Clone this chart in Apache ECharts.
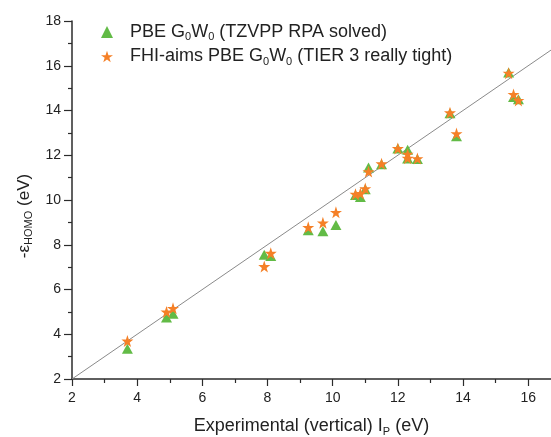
<!DOCTYPE html>
<html>
<head>
<meta charset="utf-8">
<script src="https://cdn.jsdelivr.net/npm/echarts@6/dist/echarts.min.js"></script>
<style>
  html, body { margin: 0; padding: 0; background: #fff; }
  #chart { width: 551px; height: 437px; }
</style>
</head>
<body>
<div id="chart"></div>
<script>
// experimental vertical IP (eV)
const expIP = [3.7, 4.9, 5.1, 7.9, 8.1, 9.25, 9.7, 10.1, 10.7, 10.85, 11.0, 11.1, 11.5, 12.0, 12.3, 12.3, 12.6, 13.6, 13.8, 15.4, 15.55, 15.7];
// -eps_HOMO, PBE G0W0 (TZVPP RPA solved)
const tzvpp = [3.35, 4.75, 4.92, 7.55, 7.5, 8.65, 8.6, 8.88, 10.22, 10.13, 10.48, 11.45, 11.6, 12.3, 12.25, 11.85, 11.83, 13.88, 12.85, 15.7, 14.6, 14.5];
// -eps_HOMO, FHI-aims PBE G0W0 (TIER 3 really tight)
const fhiaims = [3.7, 5.0, 5.16, 7.03, 7.62, 8.78, 8.98, 9.45, 10.26, 10.29, 10.51, 11.27, 11.62, 12.3, 12.05, 11.87, 11.85, 13.9, 12.97, 15.67, 14.72, 14.45];

const xTicks = [2, 4, 6, 8, 10, 12, 14, 16];
const xMinorTicks = [3, 5, 7, 9, 11, 13, 15];
const diagonal = [2, 16.7];

const nameTzvpp = 'PBE G0W0 (TZVPP RPA solved)';
const nameAims = 'FHI-aims PBE G0W0 (TIER 3 really tight)';
const legendLabels = {};
legendLabels[nameTzvpp] = 'PBE G{sub|0}W{sub|0} (TZVPP RPA solved)';
legendLabels[nameAims] = 'FHI-aims PBE G{sub|0}W{sub|0} (TIER 3 really tight)';

const green = '#62bb46';
const orange = '#f58027';
const axisColor = '#2b2b2b';
const font = 'Liberation Sans, Arial, sans-serif';
const star = 'path://M50,0 L61.8,35.1 L98.9,35.1 L69.1,56.9 L80.2,91.9 L50,70.3 L19.8,91.9 L30.9,56.9 L1.1,35.1 L38.2,35.1 Z';

const subStyle = { fontSize: 11, fontFamily: font, color: '#222', verticalAlign: 'bottom', padding: [10, 0, 0, 0] };

const chart = echarts.init(document.getElementById('chart'), null, { renderer: 'canvas' });

const option = {
  animation: false,
  backgroundColor: '#fff',
  grid: { left: 72, right: 0, top: 21, bottom: 58, outerBoundsMode: 'none' },
  legend: {
    orient: 'vertical',
    left: 96,
    top: 18,
    itemWidth: 12,
    itemHeight: 12,
    itemGap: 5,
    data: [
      { name: nameTzvpp, icon: 'triangle' },
      { name: nameAims, icon: star }
    ],
    formatter: n => legendLabels[n],
    textStyle: {
      fontFamily: font, fontSize: 18, color: '#222',
      padding: [0, 0, 0, 12],
      rich: { sub: subStyle }
    }
  },
  xAxis: [
    {
      type: 'value', min: 2, max: 16.7, interval: 2,
      splitLine: { show: false },
      axisLine: { lineStyle: { color: axisColor, width: 1.5 } },
      axisTick: { customValues: xTicks, length: 7, lineStyle: { color: axisColor, width: 1.2 } },
      axisLabel: { customValues: xTicks, margin: 12, fontFamily: font, fontSize: 14, color: '#222' },
      name: 'Experimental (vertical) I{sub|P} (eV)',
      nameLocation: 'middle',
      nameGap: 37,
      nameTextStyle: {
        fontFamily: font, fontSize: 18, color: '#222',
        rich: { sub: subStyle }
      }
    },
    {
      type: 'value', min: 2, max: 16.7, position: 'bottom',
      splitLine: { show: false },
      axisLine: { show: false },
      axisTick: { customValues: xMinorTicks, length: 4, lineStyle: { color: axisColor, width: 1.2 } },
      axisLabel: { show: false }
    }
  ],
  yAxis: {
    type: 'value', min: 2, max: 18, interval: 2,
    splitLine: { show: false },
    axisLine: { show: true, lineStyle: { color: axisColor, width: 1.5 } },
    axisTick: { show: true, length: 8, lineStyle: { color: axisColor, width: 1.2 } },
    minorTick: { show: true, splitNumber: 2, length: 4, lineStyle: { color: axisColor, width: 1.2 } },
    axisLabel: { margin: 11, fontFamily: font, fontSize: 14, color: '#222' },
    name: '-ε{sub|HOMO} (eV)',
    nameLocation: 'middle',
    nameRotate: 90,
    nameGap: 36,
    nameTextStyle: {
      fontFamily: font, fontSize: 17, color: '#222',
      padding: [0, 32, 0, 0],
      rich: { sub: { fontSize: 11, fontFamily: font, color: '#222', verticalAlign: 'bottom', padding: [9, 0, 0, 0] } }
    }
  },
  series: [
    {
      type: 'line',
      data: diagonal.map(v => [v, v]),
      symbol: 'none',
      lineStyle: { color: '#8a8a8a', width: 1 },
      silent: true,
      z: 1
    },
    {
      name: nameTzvpp,
      type: 'scatter',
      symbol: 'triangle',
      symbolSize: [11, 10],
      itemStyle: { color: green, opacity: 1 },
      data: expIP.map((x, i) => [x, tzvpp[i]]),
      z: 2
    },
    {
      name: nameAims,
      type: 'scatter',
      symbol: star,
      symbolSize: 12,
      itemStyle: { color: orange, opacity: 1 },
      data: expIP.map((x, i) => [x, fhiaims[i]]),
      z: 3
    }
  ]
};

chart.setOption(option);
</script>
</body>
</html>
